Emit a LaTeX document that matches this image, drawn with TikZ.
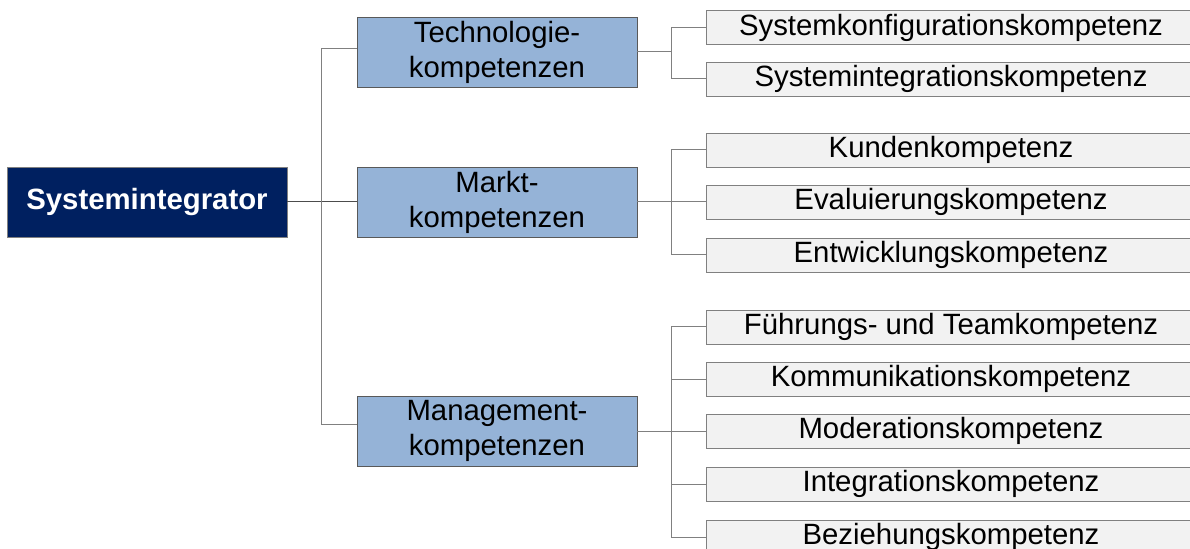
\documentclass[tikz,border=0pt]{standalone}
\usepackage{fontspec}
\setmainfont{Liberation Sans}
\usetikzlibrary{positioning}
\definecolor{sinavy}{RGB}{0,32,96}
\definecolor{siblue}{RGB}{149,179,215}
\definecolor{sigray}{RGB}{242,242,242}
\definecolor{siline}{RGB}{128,128,128}

\tikzset{
  rootbox/.style={draw=siline,fill=sinavy,text=white,font=\fontsize{22}{26.25}\selectfont\bfseries,
    minimum width=210pt,minimum height=52.5pt,inner sep=0pt},
  areabox/.style={draw=black!65,fill=siblue,align=center,font=\fontsize{22}{26.25}\selectfont,
    minimum width=210pt,minimum height=52.5pt,inner sep=0pt},
  skillbox/.style={draw=siline,fill=sigray,font=\fontsize{22}{26.25}\selectfont,
    minimum width=367.5pt,minimum height=25.5pt,inner sep=0pt,text height=16pt,text depth=4.6pt},
  link/.style={siline,line width=0.75pt}
}

\begin{document}
\begin{tikzpicture}[x=0.75pt,y=-0.75pt]
\clip (0,0) rectangle (1190,549);

% Root and competence areas
\node[rootbox] (sysint) at (147,202) {Systemintegrator};
\node[areabox] (tech) at (497,52) {Technologie-\\kompetenzen};
\node[areabox] (markt) at (497,202) {Markt-\\kompetenzen};
\node[areabox] (mgmt) at (497,431) {Management-\\kompetenzen};

% Single competences
\node[skillbox] (k1) at (951,27.5) {Systemkonfigurationskompetenz};
\node[skillbox] (k2) at (951,79) {Systemintegrationskompetenz};
\node[skillbox] (k3) at (951,150) {Kundenkompetenz};
\node[skillbox] (k4) at (951,202) {Evaluierungskompetenz};
\node[skillbox] (k5) at (951,255) {Entwicklungskompetenz};
\node[skillbox] (k6) at (951,327) {Führungs- und Teamkompetenz};
\node[skillbox] (k7) at (951,379) {Kommunikationskompetenz};
\node[skillbox] (k8) at (951,431) {Moderationskompetenz};
\node[skillbox] (k9) at (951,484) {Integrationskompetenz};
\node[skillbox] (k10) at (951,537) {Beziehungskompetenz};

% Trunk from the root
\draw[black!70,line width=0.75pt] (sysint.east) -- (markt.west);
\draw[link] ([yshift=2.25pt]tech.west) -- ++(-35,0) |- ([yshift=5.25pt]mgmt.west);

% Brackets to the single competences
\draw[link] (tech.east) -- ++(34,0) coordinate (tj);
\draw[link] (k1.west) -| (tj) |- (k2.west);
\draw[link] (markt.east) -- (k4.west);
\draw[link] (k3.west) -| ([xshift=25.5pt]markt.east) |- (k5.west);
\draw[link] (mgmt.east) -- (k8.west);
\draw[link] (k6.west) -| ([xshift=25.5pt]mgmt.east) coordinate (gj) |- (k10.west);
\draw[link] (k7.west) -- (k7.west -| gj);
\draw[link] (k9.west) -- (k9.west -| gj);
\end{tikzpicture}
\end{document}
